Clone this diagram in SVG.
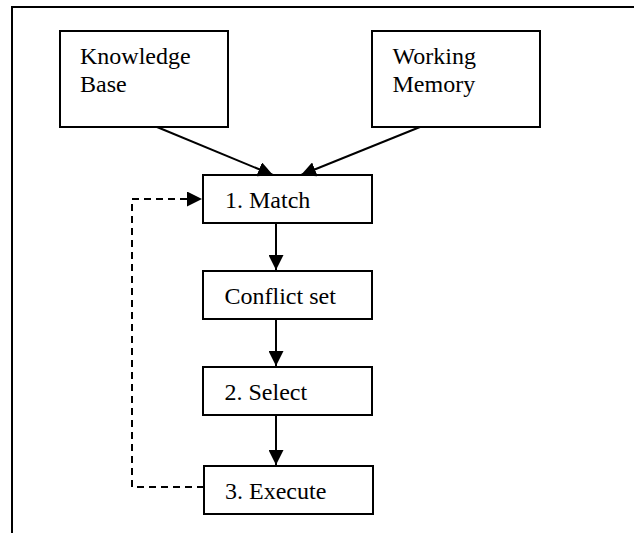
<svg xmlns="http://www.w3.org/2000/svg" width="634" height="533" viewBox="0 0 634 533">
  <style>
    .box { fill: #fff; stroke: #000; stroke-width: 2; }
    .lbl { font-family: "Liberation Serif", "Times New Roman", serif; font-size: 24px; fill: #000; }
    .edge { fill: none; stroke: #000; stroke-width: 2; }
    .dash { stroke-dasharray: 7 5; }
  </style>
  <defs>
    <marker id="arrow" viewBox="0 0 10 10" refX="10" refY="5" markerWidth="15" markerHeight="15" markerUnits="userSpaceOnUse" orient="auto">
      <path d="M0,0 L10,5 L0,10 z" fill="#000"/>
    </marker>
  </defs>
  <rect width="634" height="533" fill="#fff"/>
  <!-- frame -->
  <path d="M12,533 V7 H634" fill="none" stroke="#000" stroke-width="2"/>

  <g id="knowledge-base">
    <rect class="box" x="60" y="31" width="168" height="96"/>
    <text class="lbl" x="80" y="64">Knowledge</text>
    <text class="lbl" x="80" y="91.5">Base</text>
  </g>
  <g id="working-memory">
    <rect class="box" x="372" y="31" width="168" height="96"/>
    <text class="lbl" x="392.5" y="64">Working</text>
    <text class="lbl" x="392.5" y="91.5">Memory</text>
  </g>
  <g id="match">
    <rect class="box" x="203" y="175" width="169" height="48"/>
    <text class="lbl" x="225" y="207.5">1. Match</text>
  </g>
  <g id="conflict-set">
    <rect class="box" x="203" y="271" width="169" height="48"/>
    <text class="lbl" x="224.5" y="304">Conflict set</text>
  </g>
  <g id="select">
    <rect class="box" x="203" y="367" width="169" height="48"/>
    <text class="lbl" x="224.5" y="400">2. Select</text>
  </g>
  <g id="execute">
    <rect class="box" x="204" y="466" width="169" height="48"/>
    <text class="lbl" x="225" y="498.5">3. Execute</text>
  </g>

  <g id="connectors">
    <line class="edge" x1="157" y1="127" x2="273" y2="175" marker-end="url(#arrow)"/>
    <line class="edge" x1="420" y1="127" x2="301" y2="175" marker-end="url(#arrow)"/>
    <line class="edge" x1="276" y1="223" x2="276" y2="270" marker-end="url(#arrow)"/>
    <line class="edge" x1="276" y1="319" x2="276" y2="366" marker-end="url(#arrow)"/>
    <line class="edge" x1="276" y1="415" x2="276" y2="465" marker-end="url(#arrow)"/>
    <path class="edge dash" d="M204,487 H132 V199 H202" marker-end="url(#arrow)"/>
  </g>
</svg>
